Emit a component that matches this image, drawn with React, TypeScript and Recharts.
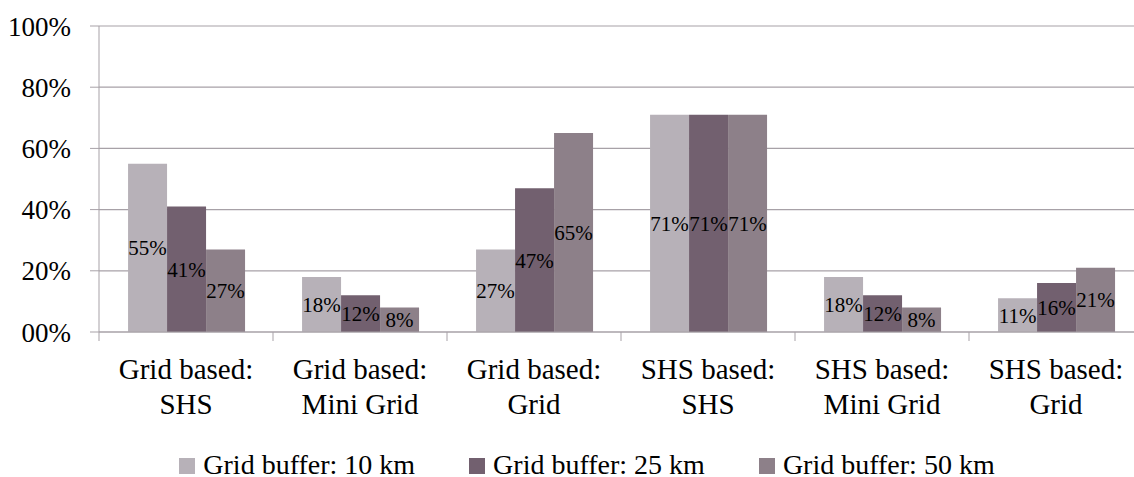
import { BarChart, Bar, XAxis, YAxis, CartesianGrid, Legend, LabelList } from "recharts";

// categories (two-line labels)
const categories = [
  ["Grid based:", "SHS"],
  ["Grid based:", "Mini Grid"],
  ["Grid based:", "Grid"],
  ["SHS based:", "SHS"],
  ["SHS based:", "Mini Grid"],
  ["SHS based:", "Grid"],
];

// series values (percent)
const buffer10 = [55, 18, 27, 71, 18, 11];
const buffer25 = [41, 12, 47, 71, 12, 16];
const buffer50 = [27, 8, 65, 71, 8, 21];

const yTicks = [0, 20, 40, 60, 80, 100];
const yTickLabels = ["00%", "20%", "40%", "60%", "80%", "100%"];

const seriesNames = ["Grid buffer: 10 km", "Grid buffer: 25 km", "Grid buffer: 50 km"];
const colors = ["#B7B1B8", "#72606F", "#8D8089"];

const data = categories.map((c, i) => ({
  name: c.join(" "),
  b10: buffer10[i],
  b25: buffer25[i],
  b50: buffer50[i],
}));

const FONT = "Liberation Serif, DejaVu Serif, serif";
const GRID = "#A7A1A7";

const CHART_W = 1174;
const CHART_H = 477;
const MARGIN = { top: 26, right: 31, left: 0, bottom: 0 };
const Y_W = 99;
const bandW = (CHART_W - MARGIN.left - MARGIN.right - Y_W) / categories.length;

function CategoryTick(props: any) {
  const { x, y, index } = props;
  const lines = categories[index] || [];
  const lx = x - bandW / 2;
  return (
    <g>
      <line x1={lx} y1={y} x2={lx} y2={y + 9} stroke={GRID} strokeWidth={1} />
      <text x={x} y={y} textAnchor="middle" style={{ fontFamily: FONT }} fontSize={29} fill="#000">
        {lines.map((l, i) => (
          <tspan key={i} x={x} y={y + 47 + i * 35}>
            {l}
          </tspan>
        ))}
      </text>
    </g>
  );
}

function LegendContent() {
  return (
    <div
      style={{
        display: "flex",
        justifyContent: "center",
        gap: 54,
        fontFamily: FONT,
        fontSize: 28,
        lineHeight: "28px",
        color: "#000",
      }}
    >
      {seriesNames.map((n, i) => (
        <div key={n} style={{ display: "flex", alignItems: "center" }}>
          <span
            style={{ display: "inline-block", width: 16, height: 16, background: colors[i], marginRight: 8, marginTop: 2 }}
          />
          <span>{n}</span>
        </div>
      ))}
    </div>
  );
}

export default function App() {
  return (
    <div style={{ position: "absolute", left: 0, top: 0, width: 1134, height: 477, overflow: "hidden", background: "#fff", fontFamily: FONT }}>
      <BarChart
        width={CHART_W}
        height={CHART_H}
        data={data}
        margin={MARGIN}
        barCategoryGap="16.7%"
        barGap={0}
        style={{ fontFamily: FONT }}
      >
        <CartesianGrid vertical={false} stroke={GRID} strokeWidth={1.2} />
        <XAxis
          dataKey="name"
          interval={0}
          axisLine={{ stroke: GRID }}
          tickLine={false}
          tickSize={0}
          tickMargin={0}
          height={145}
          tick={<CategoryTick />}
        />
        <YAxis
          domain={[0, 100]}
          ticks={yTicks}
          tickFormatter={(v: number, i: number) => yTickLabels[i] ?? `${v}%`}
          width={Y_W}
          tickSize={9}
          tickMargin={19}
          axisLine={{ stroke: GRID }}
          tickLine={{ stroke: GRID }}
          tick={{ fontSize: 27, fill: "#000", style: { fontFamily: FONT } }}
        />
        <Legend
          verticalAlign="middle"
          layout="horizontal"
          content={<LegendContent />}
          wrapperStyle={{ top: 451, left: 0, width: CHART_W }}
        />
        {["b10", "b25", "b50"].map((k, i) => (
          <Bar key={k} dataKey={k} name={seriesNames[i]} fill={colors[i]} isAnimationActive={false}>
            <LabelList
              dataKey={k}
              position="center"
              formatter={(v: any) => `${v}%`}
              style={{ fontFamily: FONT, fontSize: 21, fill: "#000" }}
            />
          </Bar>
        ))}
      </BarChart>
    </div>
  );
}
